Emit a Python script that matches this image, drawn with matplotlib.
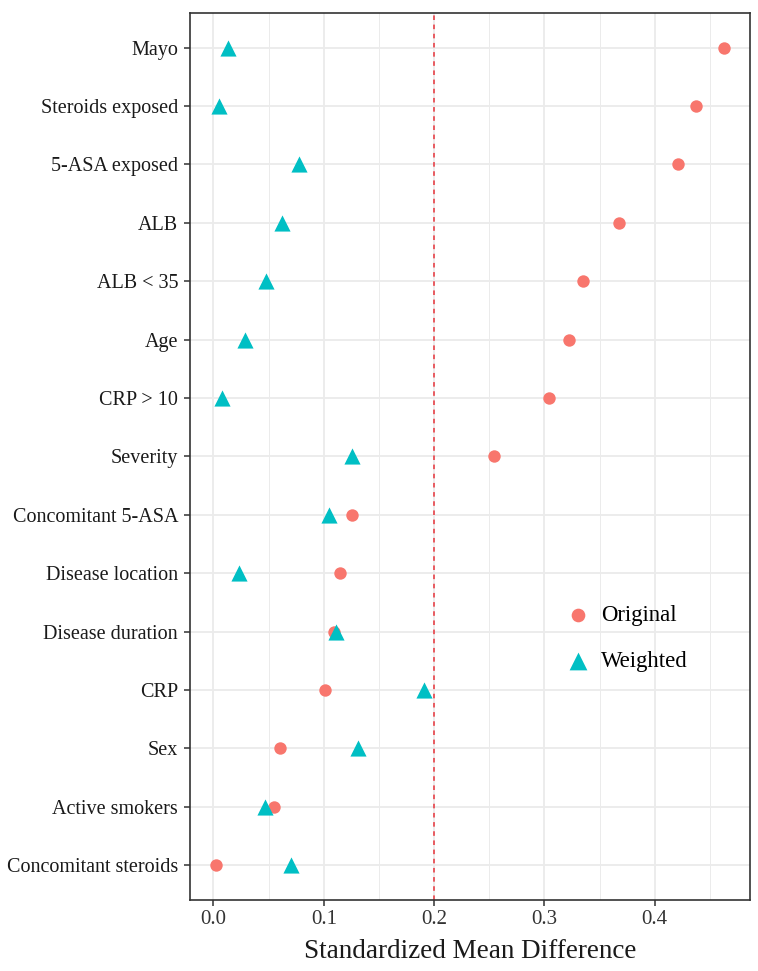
import matplotlib
matplotlib.use("Agg")
import matplotlib.pyplot as plt
import numpy as np

# Données
variables = ["Mayo", "Steroids exposed", "5-ASA exposed", "ALB", "ALB < 35", "Age",
             "CRP > 10", "Severity", "Concomitant 5-ASA", "Disease location",
             "Disease duration", "CRP", "Sex", "Active smokers", "Concomitant steroids"]
original = [0.463, 0.437, 0.421, 0.368, 0.335, 0.322, 0.304, 0.254,
            0.126, 0.115, 0.109, 0.101, 0.060, 0.055, 0.002]
weighted = [0.013, 0.005, 0.078, 0.062, 0.048, 0.029, 0.008, 0.126,
            0.105, 0.023, 0.111, 0.191, 0.131, 0.047, 0.070]

plt.rcParams["font.family"] = ["Liberation Serif", "DejaVu Serif"]

fig = plt.figure(figsize=(7.58, 9.71), dpi=100)
ax = fig.add_axes([0.251, 0.073, 0.738, 0.914])

n = len(variables)
pos = np.arange(n, 0, -1)

ax.scatter(original, pos, s=80, marker="o", color="#F8766D", label="Original", zorder=3, linewidths=0)
ax.scatter(weighted, pos, s=135, marker="^", color="#00BFC4", label="Weighted", zorder=3, linewidths=0)

ax.axvline(0.2, color="#E8333A", linestyle=(0, (3, 3)), linewidth=1.1, zorder=2)

ax.set_xlim(-0.021, 0.486)
ax.set_ylim(0.4, n + 0.6)
ax.set_yticks(pos)
ax.set_yticklabels(variables, fontsize=14.5)
ax.set_xticks([0.0, 0.1, 0.2, 0.3, 0.4])
ax.set_xticklabels(["0.0", "0.1", "0.2", "0.3", "0.4"], fontsize=15, color="#333333")
ax.set_xticks([0.05, 0.15, 0.25, 0.35, 0.45], minor=True)
ax.tick_params(axis="both", length=4.3, width=1.1, color="#333333")
ax.tick_params(axis="y", pad=4.5, labelcolor="#1a1a1a")
ax.tick_params(axis="x", pad=3)
ax.tick_params(axis="x", which="minor", length=0)

ax.grid(True, which="major", color="#EBEBEB", linewidth=1.3, zorder=0)
ax.grid(True, which="minor", axis="x", color="#EBEBEB", linewidth=0.7, zorder=0)
ax.set_axisbelow(True)

for sp in ax.spines.values():
    sp.set_color("#333333")
    sp.set_linewidth(1.2)

ax.set_xlabel("Standardized Mean Difference", fontsize=19.5, color="#1a1a1a", labelpad=7)

ax.legend(loc="center left", bbox_to_anchor=(0.718, 0.342), bbox_transform=fig.transFigure,
          frameon=False, fontsize=16.4, handlelength=1.2, handletextpad=0.4,
          labelspacing=1.1, borderaxespad=0.5, markerscale=1.1)

plt.savefig("out.png", dpi=100)
